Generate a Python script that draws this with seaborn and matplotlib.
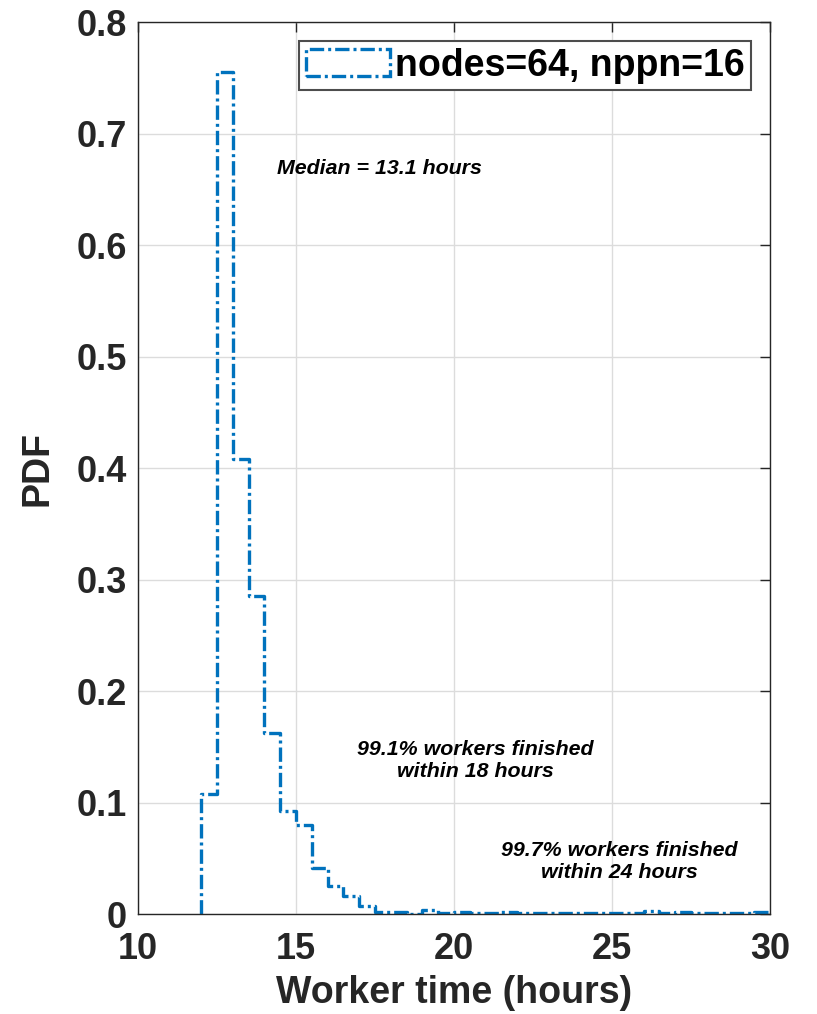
import matplotlib
matplotlib.use("Agg")
import matplotlib.pyplot as plt
from matplotlib.patches import Patch
import seaborn as sns
import numpy as np
import pandas as pd

# ---------------------------------------------------
# Data (bin width 0.5 h)
# ---------------------------------------------------

BIN_WIDTH = 0.5
bin_starts = np.arange(12.0, 30.0, BIN_WIDTH)

pdf_values = [
    0.108, 0.755, 0.408, 0.285, 0.162, 0.092,  # 12.0 - 14.5
    0.080, 0.041, 0.025, 0.016, 0.007, 0.002,  # 15.0 - 17.5
    0.002, 0.000, 0.004, 0.001, 0.002, 0.001,  # 18.0 - 20.5
    0.001, 0.002, 0.001, 0.001, 0.001, 0.001,  # 21.0 - 23.5
    0.001, 0.001, 0.001, 0.001, 0.003, 0.001,  # 24.0 - 26.5
    0.002, 0.001, 0.001, 0.001, 0.001, 0.002,  # 27.0 - 29.5
]

legend_label = "nodes=64, nppn=16"

annotations = [
    (17.63, 0.669, "Median = 13.1 hours"),
    (20.67, 0.138, "99.1% workers finished\nwithin 18 hours"),
    (25.24, 0.0475, "99.7% workers finished\nwithin 24 hours"),
]

BLUE = "#0072BD"
DARK = "#262626"

# ---------------------------------------------------
# Theme
# ---------------------------------------------------

sns.set_theme(style="white")
plt.rcParams["font.family"] = ["Liberation Sans", "DejaVu Sans"]

fig = plt.figure(figsize=(8.17, 10.14), dpi=100)
ax = fig.add_axes([0.169, 0.0986, 0.7735, 0.8797])

# a zero-height sliver in front of the first bin gives the drop to 0 at x=12
lead = bin_starts[0] - 0.002
df = pd.DataFrame({
    "center": [lead + 0.001] + list(bin_starts + BIN_WIDTH / 2),
    "pdf": [0.0] + pdf_values,
})
edges = [lead] + list(bin_starts) + [bin_starts[-1] + BIN_WIDTH]
dash_dot = (0, (4.3, 1.2, 0.9, 1.2))

sns.histplot(
    data=df,
    x="center",
    weights="pdf",
    bins=edges,
    element="step",
    fill=False,
    color=BLUE,
    linewidth=2.4,
    linestyle=dash_dot,
    ax=ax
)

ax.set_xlim(10, 30)
ax.set_ylim(0, 0.8)
ax.set_xticks([10, 15, 20, 25, 30])
ax.set_yticks(np.arange(0, 0.81, 0.1))
ax.set_yticklabels(["0"] + [f"{v:.1f}" for v in np.arange(0.1, 0.81, 0.1)])

ax.grid(True, color="#dcdcdc", linewidth=1.0)
ax.set_axisbelow(True)

for spine in ax.spines.values():
    spine.set_color(DARK)
    spine.set_linewidth(1.0)

ax.tick_params(
    direction="in", length=7, width=1.0, top=True, right=True,
    labelsize=26, colors=DARK, pad=8
)
ax.tick_params(axis="x", pad=13)
for lbl in ax.get_xticklabels() + ax.get_yticklabels():
    lbl.set_fontweight("bold")

ax.set_xlabel("Worker time (hours)", fontsize=27, weight="bold", color=DARK, labelpad=6)
ax.set_ylabel("PDF", fontsize=27, weight="bold", color=DARK, labelpad=15)

for x, y, txt in annotations:
    ax.text(x, y, txt, ha="center", va="center", fontsize=15.4,
            style="italic", weight="bold", color="black", linespacing=1.2)

handle = Patch(facecolor="none", edgecolor=BLUE, linewidth=2.4, linestyle=dash_dot)
leg = ax.legend(
    [handle], [legend_label],
    loc="upper right", prop={"weight": "bold", "size": 27},
    frameon=True, fancybox=False, framealpha=1,
    handlelength=2.25, handleheight=0.72, handletextpad=0.12,
    borderpad=0.18, borderaxespad=0.5
)
leg.get_frame().set_edgecolor("#4d4d4d")
leg.get_frame().set_linewidth(1.5)
for t in leg.get_texts():
    t.set_color("black")

fig.savefig("out.png", dpi=100)
plt.close(fig)
